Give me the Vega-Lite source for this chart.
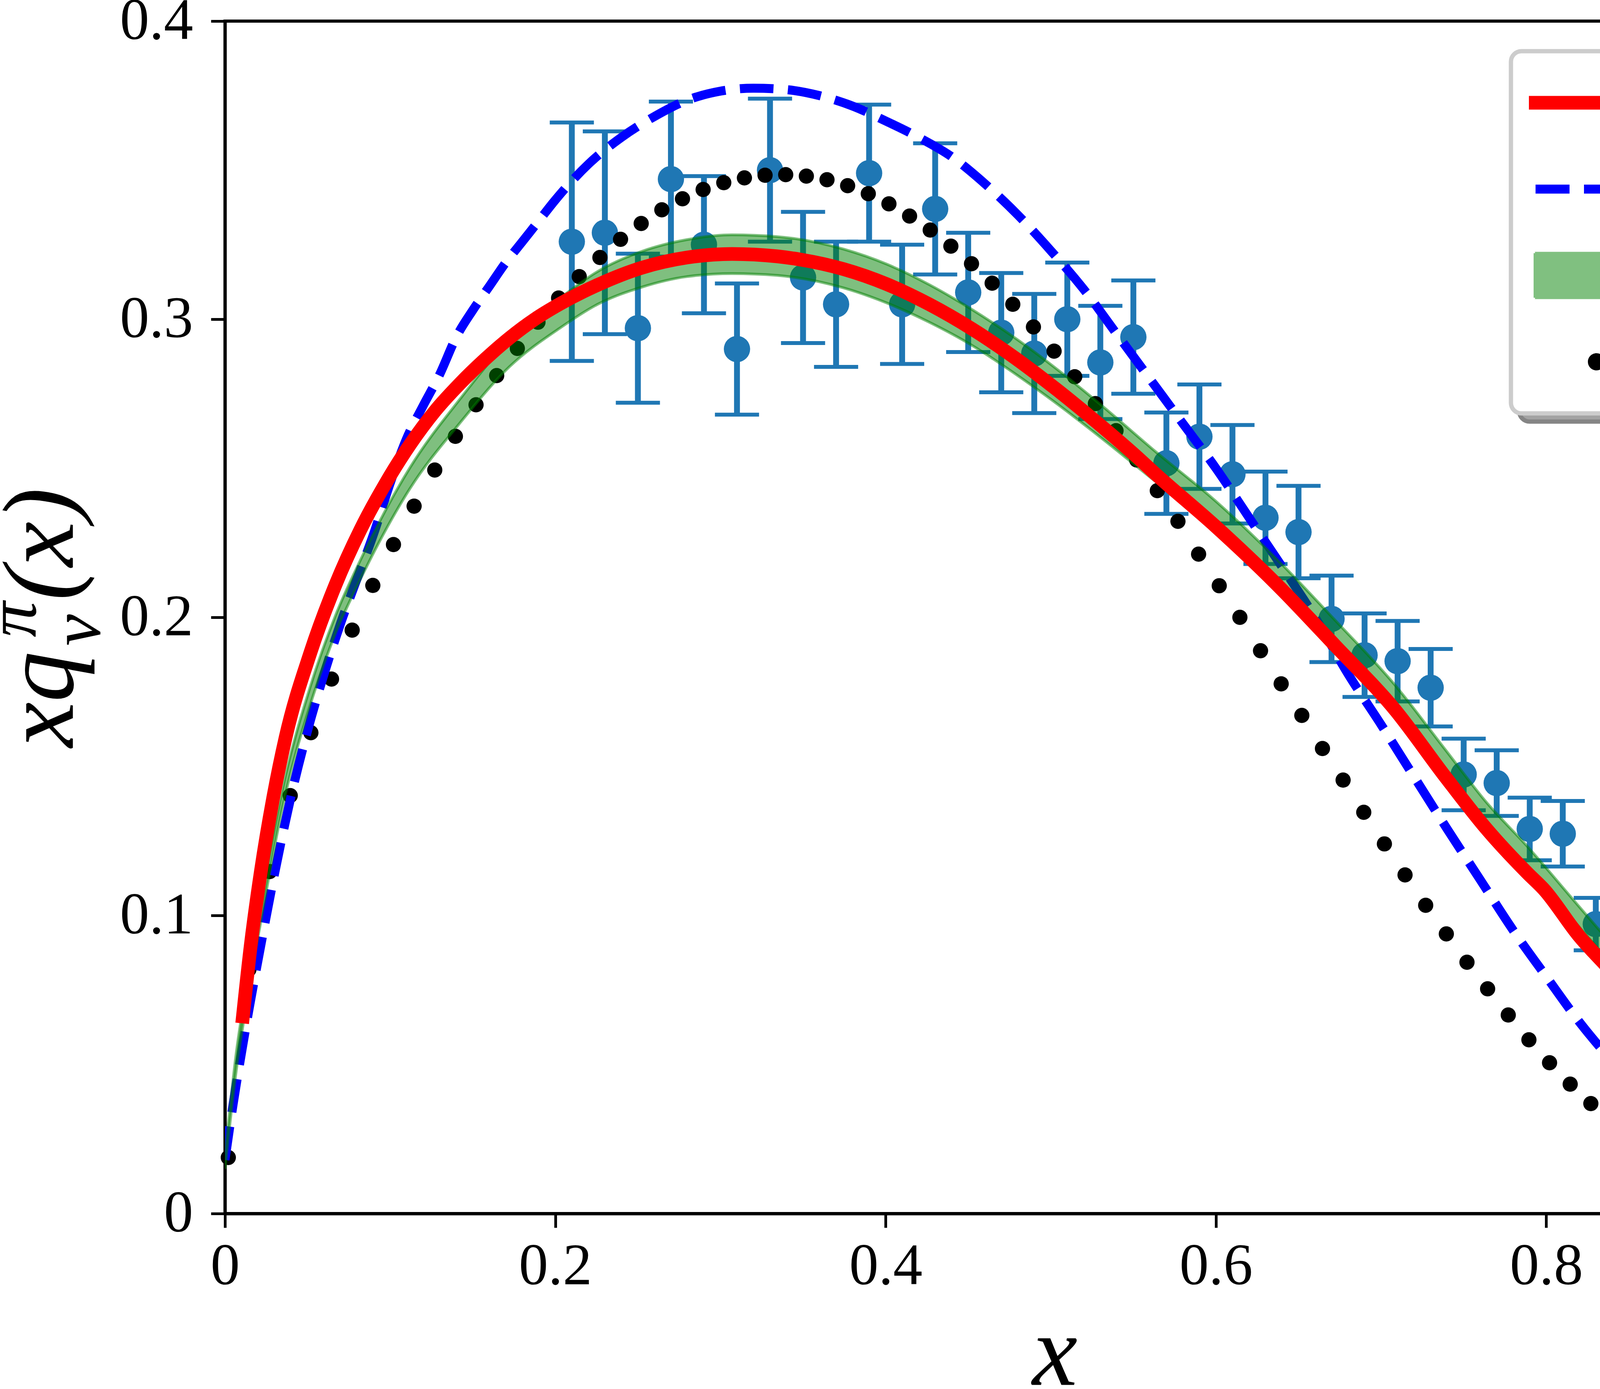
{
  "$schema": "https://vega.github.io/schema/vega-lite/v6.json",
  "width": 4228,
  "height": 3052,
  "autosize": {"type": "none"},
  "padding": {"left": 576, "top": 54, "right": 37, "bottom": 449},
  "background": "white",
  "datasets": {
    "exp": [
      {"x": 0.21, "y": 0.326, "err": 0.04},
      {"x": 0.23, "y": 0.329, "err": 0.034},
      {"x": 0.25, "y": 0.297, "err": 0.025},
      {"x": 0.27, "y": 0.347, "err": 0.026},
      {"x": 0.29, "y": 0.325, "err": 0.023},
      {"x": 0.31, "y": 0.29, "err": 0.022},
      {"x": 0.33, "y": 0.35, "err": 0.024},
      {"x": 0.35, "y": 0.314, "err": 0.022},
      {"x": 0.37, "y": 0.305, "err": 0.021},
      {"x": 0.39, "y": 0.349, "err": 0.023},
      {"x": 0.41, "y": 0.305, "err": 0.02},
      {"x": 0.43, "y": 0.337, "err": 0.022},
      {"x": 0.45, "y": 0.309, "err": 0.02},
      {"x": 0.47, "y": 0.2955, "err": 0.02},
      {"x": 0.49, "y": 0.2885, "err": 0.02},
      {"x": 0.51, "y": 0.3, "err": 0.019},
      {"x": 0.53, "y": 0.2855, "err": 0.019},
      {"x": 0.55, "y": 0.294, "err": 0.019},
      {"x": 0.57, "y": 0.2517, "err": 0.017},
      {"x": 0.59, "y": 0.2606, "err": 0.0175},
      {"x": 0.61, "y": 0.248, "err": 0.0165},
      {"x": 0.63, "y": 0.2334, "err": 0.0155},
      {"x": 0.65, "y": 0.2286, "err": 0.0155},
      {"x": 0.67, "y": 0.1995, "err": 0.0145},
      {"x": 0.69, "y": 0.1873, "err": 0.014},
      {"x": 0.71, "y": 0.1853, "err": 0.0135},
      {"x": 0.73, "y": 0.1764, "err": 0.013},
      {"x": 0.75, "y": 0.1473, "err": 0.012},
      {"x": 0.77, "y": 0.1444, "err": 0.011},
      {"x": 0.79, "y": 0.129, "err": 0.0105},
      {"x": 0.81, "y": 0.1274, "err": 0.011},
      {"x": 0.83, "y": 0.0971, "err": 0.0088},
      {"x": 0.85, "y": 0.0914, "err": 0.0088},
      {"x": 0.87, "y": 0.0918, "err": 0.009},
      {"x": 0.89, "y": 0.0627, "err": 0.007},
      {"x": 0.91, "y": 0.0554, "err": 0.0065},
      {"x": 0.93, "y": 0.0376, "err": 0.0048},
      {"x": 0.95, "y": 0.032, "err": 0.0047},
      {"x": 0.97, "y": 0.017, "err": 0.0032},
      {"x": 0.99, "y": 0.0093, "err": 0.0024}
    ],
    "jam": [
      {"x": 0.0, "lo": 0.015, "hi": 0.019},
      {"x": 0.0066, "lo": 0.047, "hi": 0.053},
      {"x": 0.0126, "lo": 0.069, "hi": 0.075},
      {"x": 0.0217, "lo": 0.098, "hi": 0.104},
      {"x": 0.0367, "lo": 0.141, "hi": 0.147},
      {"x": 0.0518, "lo": 0.171, "hi": 0.177},
      {"x": 0.0669, "lo": 0.1946, "hi": 0.2006},
      {"x": 0.082, "lo": 0.2128, "hi": 0.2192},
      {"x": 0.1121, "lo": 0.2433, "hi": 0.2503},
      {"x": 0.1424, "lo": 0.2653, "hi": 0.2733},
      {"x": 0.1725, "lo": 0.2842, "hi": 0.2932},
      {"x": 0.2027, "lo": 0.297, "hi": 0.307},
      {"x": 0.2256, "lo": 0.305, "hi": 0.316},
      {"x": 0.2526, "lo": 0.3108, "hi": 0.3228},
      {"x": 0.2798, "lo": 0.3143, "hi": 0.3267},
      {"x": 0.307, "lo": 0.3153, "hi": 0.3283},
      {"x": 0.3342, "lo": 0.3147, "hi": 0.3277},
      {"x": 0.3746, "lo": 0.3105, "hi": 0.3235},
      {"x": 0.4005, "lo": 0.3055, "hi": 0.3185},
      {"x": 0.4264, "lo": 0.299, "hi": 0.3116},
      {"x": 0.4524, "lo": 0.2912, "hi": 0.3032},
      {"x": 0.4784, "lo": 0.2817, "hi": 0.2937},
      {"x": 0.5043, "lo": 0.2714, "hi": 0.283},
      {"x": 0.5303, "lo": 0.2603, "hi": 0.2713},
      {"x": 0.5636, "lo": 0.2455, "hi": 0.2555},
      {"x": 0.5998, "lo": 0.23, "hi": 0.239},
      {"x": 0.636, "lo": 0.212, "hi": 0.22},
      {"x": 0.6722, "lo": 0.191, "hi": 0.199},
      {"x": 0.7084, "lo": 0.1697, "hi": 0.1773},
      {"x": 0.7389, "lo": 0.1484, "hi": 0.1556},
      {"x": 0.7637, "lo": 0.131, "hi": 0.138},
      {"x": 0.7888, "lo": 0.116, "hi": 0.123},
      {"x": 0.82, "lo": 0.0961, "hi": 0.1029},
      {"x": 0.8409, "lo": 0.0829, "hi": 0.0895},
      {"x": 0.87, "lo": 0.0651, "hi": 0.0715},
      {"x": 0.8988, "lo": 0.0485, "hi": 0.0545},
      {"x": 0.9279, "lo": 0.0324, "hi": 0.038},
      {"x": 0.9568, "lo": 0.0166, "hi": 0.0214},
      {"x": 0.9722, "lo": 0.0095, "hi": 0.0135},
      {"x": 0.9838, "lo": 0.0047, "hi": 0.0077},
      {"x": 1.0, "lo": 0.0, "hi": 0.0016}
    ],
    "curves": [
      {"series": "DSE", "x": 0.0104, "y": 0.0638},
      {"series": "DSE", "x": 0.0156, "y": 0.09},
      {"series": "DSE", "x": 0.0217, "y": 0.1147},
      {"series": "DSE", "x": 0.0291, "y": 0.1392},
      {"series": "DSE", "x": 0.0367, "y": 0.1597},
      {"series": "DSE", "x": 0.0518, "y": 0.1883},
      {"series": "DSE", "x": 0.0669, "y": 0.2109},
      {"series": "DSE", "x": 0.082, "y": 0.2294},
      {"series": "DSE", "x": 0.097, "y": 0.2447},
      {"series": "DSE", "x": 0.1121, "y": 0.258},
      {"series": "DSE", "x": 0.1273, "y": 0.2693},
      {"series": "DSE", "x": 0.1424, "y": 0.2785},
      {"series": "DSE", "x": 0.1575, "y": 0.2866},
      {"series": "DSE", "x": 0.1725, "y": 0.2938},
      {"series": "DSE", "x": 0.1876, "y": 0.3},
      {"series": "DSE", "x": 0.2027, "y": 0.3051},
      {"series": "DSE", "x": 0.2256, "y": 0.3115},
      {"series": "DSE", "x": 0.2526, "y": 0.3173},
      {"series": "DSE", "x": 0.2798, "y": 0.3207},
      {"series": "DSE", "x": 0.307, "y": 0.3219},
      {"series": "DSE", "x": 0.3342, "y": 0.3211},
      {"series": "DSE", "x": 0.3486, "y": 0.32},
      {"series": "DSE", "x": 0.3746, "y": 0.3168},
      {"series": "DSE", "x": 0.4005, "y": 0.3118},
      {"series": "DSE", "x": 0.4264, "y": 0.305},
      {"series": "DSE", "x": 0.4524, "y": 0.2967},
      {"series": "DSE", "x": 0.4784, "y": 0.287},
      {"series": "DSE", "x": 0.5043, "y": 0.2761},
      {"series": "DSE", "x": 0.5303, "y": 0.2643},
      {"series": "DSE", "x": 0.552, "y": 0.2539},
      {"series": "DSE", "x": 0.5636, "y": 0.248},
      {"series": "DSE", "x": 0.5998, "y": 0.2305},
      {"series": "DSE", "x": 0.636, "y": 0.2115},
      {"series": "DSE", "x": 0.6722, "y": 0.1905},
      {"series": "DSE", "x": 0.7084, "y": 0.169},
      {"series": "DSE", "x": 0.7389, "y": 0.1465},
      {"series": "DSE", "x": 0.7637, "y": 0.1291},
      {"series": "DSE", "x": 0.7888, "y": 0.1141},
      {"series": "DSE", "x": 0.7985, "y": 0.1088},
      {"series": "DSE", "x": 0.8197, "y": 0.0932},
      {"series": "DSE", "x": 0.8409, "y": 0.0804},
      {"series": "DSE", "x": 0.87, "y": 0.0622},
      {"series": "DSE", "x": 0.8988, "y": 0.0456},
      {"series": "DSE", "x": 0.9279, "y": 0.0296},
      {"series": "DSE", "x": 0.9568, "y": 0.0135},
      {"series": "DSE", "x": 0.9722, "y": 0.0071},
      {"series": "DSE", "x": 0.9838, "y": 0.0028},
      {"series": "DSE", "x": 1.0, "y": 0.0012},
      {"series": "WIA", "x": 0.0, "y": 0.018},
      {"series": "WIA", "x": 0.005, "y": 0.037},
      {"series": "WIA", "x": 0.01, "y": 0.054},
      {"series": "WIA", "x": 0.015, "y": 0.07},
      {"series": "WIA", "x": 0.02, "y": 0.085},
      {"series": "WIA", "x": 0.03, "y": 0.114},
      {"series": "WIA", "x": 0.04, "y": 0.14},
      {"series": "WIA", "x": 0.05, "y": 0.162},
      {"series": "WIA", "x": 0.06, "y": 0.181},
      {"series": "WIA", "x": 0.07, "y": 0.198},
      {"series": "WIA", "x": 0.08, "y": 0.213},
      {"series": "WIA", "x": 0.09, "y": 0.228},
      {"series": "WIA", "x": 0.1, "y": 0.245},
      {"series": "WIA", "x": 0.11, "y": 0.26},
      {"series": "WIA", "x": 0.12, "y": 0.271},
      {"series": "WIA", "x": 0.13, "y": 0.2815},
      {"series": "WIA", "x": 0.14, "y": 0.294},
      {"series": "WIA", "x": 0.15, "y": 0.303},
      {"series": "WIA", "x": 0.16, "y": 0.311},
      {"series": "WIA", "x": 0.17, "y": 0.319},
      {"series": "WIA", "x": 0.18, "y": 0.326},
      {"series": "WIA", "x": 0.19, "y": 0.333},
      {"series": "WIA", "x": 0.2, "y": 0.34},
      {"series": "WIA", "x": 0.22, "y": 0.352},
      {"series": "WIA", "x": 0.24, "y": 0.361},
      {"series": "WIA", "x": 0.26, "y": 0.368},
      {"series": "WIA", "x": 0.28, "y": 0.3735},
      {"series": "WIA", "x": 0.3, "y": 0.3765},
      {"series": "WIA", "x": 0.32, "y": 0.3775},
      {"series": "WIA", "x": 0.34, "y": 0.377},
      {"series": "WIA", "x": 0.36, "y": 0.375},
      {"series": "WIA", "x": 0.38, "y": 0.3715},
      {"series": "WIA", "x": 0.4, "y": 0.3665},
      {"series": "WIA", "x": 0.42, "y": 0.361},
      {"series": "WIA", "x": 0.44, "y": 0.3545},
      {"series": "WIA", "x": 0.46, "y": 0.3455},
      {"series": "WIA", "x": 0.48, "y": 0.335},
      {"series": "WIA", "x": 0.5, "y": 0.323},
      {"series": "WIA", "x": 0.52, "y": 0.31},
      {"series": "WIA", "x": 0.54, "y": 0.295},
      {"series": "WIA", "x": 0.56, "y": 0.28},
      {"series": "WIA", "x": 0.58, "y": 0.265},
      {"series": "WIA", "x": 0.6, "y": 0.25},
      {"series": "WIA", "x": 0.62, "y": 0.2335},
      {"series": "WIA", "x": 0.64, "y": 0.217},
      {"series": "WIA", "x": 0.66, "y": 0.2},
      {"series": "WIA", "x": 0.68, "y": 0.181},
      {"series": "WIA", "x": 0.7, "y": 0.164},
      {"series": "WIA", "x": 0.72, "y": 0.1465},
      {"series": "WIA", "x": 0.74, "y": 0.129},
      {"series": "WIA", "x": 0.76, "y": 0.112},
      {"series": "WIA", "x": 0.78, "y": 0.095},
      {"series": "WIA", "x": 0.8, "y": 0.0795},
      {"series": "WIA", "x": 0.82, "y": 0.0643},
      {"series": "WIA", "x": 0.84, "y": 0.051},
      {"series": "WIA", "x": 0.86, "y": 0.0386},
      {"series": "WIA", "x": 0.88, "y": 0.0275},
      {"series": "WIA", "x": 0.9, "y": 0.0178},
      {"series": "WIA", "x": 0.92, "y": 0.0105},
      {"series": "WIA", "x": 0.94, "y": 0.0055},
      {"series": "WIA", "x": 0.96, "y": 0.0025},
      {"series": "WIA", "x": 0.98, "y": 0.0008},
      {"series": "WIA", "x": 1.0, "y": 0.0},
      {"series": "ASV", "x": 0.002, "y": 0.0188},
      {"series": "ASV", "x": 0.0145, "y": 0.0819},
      {"series": "ASV", "x": 0.027, "y": 0.1147},
      {"series": "ASV", "x": 0.0395, "y": 0.1402},
      {"series": "ASV", "x": 0.052, "y": 0.1613},
      {"series": "ASV", "x": 0.0645, "y": 0.1793},
      {"series": "ASV", "x": 0.077, "y": 0.1957},
      {"series": "ASV", "x": 0.0895, "y": 0.2107},
      {"series": "ASV", "x": 0.102, "y": 0.2244},
      {"series": "ASV", "x": 0.1145, "y": 0.2373},
      {"series": "ASV", "x": 0.127, "y": 0.2494},
      {"series": "ASV", "x": 0.1395, "y": 0.2607},
      {"series": "ASV", "x": 0.152, "y": 0.2713},
      {"series": "ASV", "x": 0.1645, "y": 0.2811},
      {"series": "ASV", "x": 0.177, "y": 0.2902},
      {"series": "ASV", "x": 0.1895, "y": 0.299},
      {"series": "ASV", "x": 0.202, "y": 0.3071},
      {"series": "ASV", "x": 0.2145, "y": 0.3143},
      {"series": "ASV", "x": 0.227, "y": 0.3207},
      {"series": "ASV", "x": 0.2395, "y": 0.3268},
      {"series": "ASV", "x": 0.252, "y": 0.3321},
      {"series": "ASV", "x": 0.2645, "y": 0.3367},
      {"series": "ASV", "x": 0.277, "y": 0.3404},
      {"series": "ASV", "x": 0.2895, "y": 0.3435},
      {"series": "ASV", "x": 0.302, "y": 0.3458},
      {"series": "ASV", "x": 0.3145, "y": 0.3474},
      {"series": "ASV", "x": 0.327, "y": 0.3483},
      {"series": "ASV", "x": 0.3395, "y": 0.3485},
      {"series": "ASV", "x": 0.352, "y": 0.348},
      {"series": "ASV", "x": 0.3645, "y": 0.3468},
      {"series": "ASV", "x": 0.377, "y": 0.3448},
      {"series": "ASV", "x": 0.3895, "y": 0.3421},
      {"series": "ASV", "x": 0.402, "y": 0.3387},
      {"series": "ASV", "x": 0.4145, "y": 0.3346},
      {"series": "ASV", "x": 0.427, "y": 0.3299},
      {"series": "ASV", "x": 0.4395, "y": 0.3245},
      {"series": "ASV", "x": 0.452, "y": 0.3186},
      {"series": "ASV", "x": 0.4645, "y": 0.3121},
      {"series": "ASV", "x": 0.477, "y": 0.305},
      {"series": "ASV", "x": 0.4895, "y": 0.2974},
      {"series": "ASV", "x": 0.502, "y": 0.2893},
      {"series": "ASV", "x": 0.5145, "y": 0.2807},
      {"series": "ASV", "x": 0.527, "y": 0.2717},
      {"series": "ASV", "x": 0.5395, "y": 0.2626},
      {"series": "ASV", "x": 0.552, "y": 0.2528},
      {"series": "ASV", "x": 0.5645, "y": 0.2425},
      {"series": "ASV", "x": 0.577, "y": 0.2322},
      {"series": "ASV", "x": 0.5895, "y": 0.2212},
      {"series": "ASV", "x": 0.602, "y": 0.2106},
      {"series": "ASV", "x": 0.6145, "y": 0.2},
      {"series": "ASV", "x": 0.627, "y": 0.1888},
      {"series": "ASV", "x": 0.6395, "y": 0.1777},
      {"series": "ASV", "x": 0.652, "y": 0.1671},
      {"series": "ASV", "x": 0.6645, "y": 0.156},
      {"series": "ASV", "x": 0.677, "y": 0.1454},
      {"series": "ASV", "x": 0.6895, "y": 0.1346},
      {"series": "ASV", "x": 0.702, "y": 0.124},
      {"series": "ASV", "x": 0.7145, "y": 0.1136},
      {"series": "ASV", "x": 0.727, "y": 0.1034},
      {"series": "ASV", "x": 0.7395, "y": 0.0938},
      {"series": "ASV", "x": 0.752, "y": 0.0843},
      {"series": "ASV", "x": 0.7645, "y": 0.0754},
      {"series": "ASV", "x": 0.777, "y": 0.0666},
      {"series": "ASV", "x": 0.7895, "y": 0.0583},
      {"series": "ASV", "x": 0.802, "y": 0.0506},
      {"series": "ASV", "x": 0.8145, "y": 0.0434},
      {"series": "ASV", "x": 0.827, "y": 0.0369},
      {"series": "ASV", "x": 0.8395, "y": 0.0308},
      {"series": "ASV", "x": 0.852, "y": 0.0253},
      {"series": "ASV", "x": 0.8645, "y": 0.0202},
      {"series": "ASV", "x": 0.877, "y": 0.0159},
      {"series": "ASV", "x": 0.8895, "y": 0.0123},
      {"series": "ASV", "x": 0.902, "y": 0.0093},
      {"series": "ASV", "x": 0.9145, "y": 0.0068},
      {"series": "ASV", "x": 0.927, "y": 0.0046},
      {"series": "ASV", "x": 0.9395, "y": 0.003},
      {"series": "ASV", "x": 0.952, "y": 0.0018},
      {"series": "ASV", "x": 0.9645, "y": 0.0011},
      {"series": "ASV", "x": 0.977, "y": 0.0006}
    ]
  },
  "layer": [
    {
      "data": {"name": "exp"},
      "mark": {
        "type": "errorbar",
        "color": "#1f77b4",
        "ticks": {"size": 113, "thickness": 10, "color": "#1f77b4", "opacity": 1},
        "rule": {"strokeWidth": 15, "color": "#1f77b4", "opacity": 1}
      },
      "encoding": {
        "x": {
          "field": "x", "type": "quantitative",
          "scale": {"domain": [0, 1], "nice": false, "zero": false},
          "axis": {
            "orient": "bottom",
            "values": [0, 0.2, 0.4, 0.6, 0.8, 1],
            "format": "~g",
            "labelPadding": 25,
            "title": "x",
            "titleFontSize": 260,
            "titleX": 2124,
            "titleY": 438,
            "titleAlign": "center",
            "titleBaseline": "alphabetic"
          }
        },
        "y": {"field": "y", "type": "quantitative", "scale": {"domain": [0, 0.4], "nice": false, "zero": false}, "axis": null},
        "yError": {"field": "err"}
      }
    },
    {
      "data": {"name": "exp"},
      "mark": {"type": "circle", "color": "#1f77b4", "opacity": 1},
      "encoding": {
        "x": {"field": "x", "type": "quantitative"},
        "y": {"field": "y", "type": "quantitative", "axis": null},
        "size": {
          "field": "err", "type": "quantitative",
          "scale": {"range": [4536, 4536]},
          "legend": {
            "orient": "none",
            "legendX": 3313,
            "legendY": 98,
            "zindex": 1,
            "title": null,
            "values": [0.005, 0.01, 0.02, 0.03],
            "labelExpr": "''",
            "padding": 57,
            "fillColor": "#a3a3a3",
            "strokeColor": "#858585",
            "cornerRadius": 27,
            "labelFont": "Liberation Serif",
            "labelFontSize": 150,
            "labelLimit": 2000,
            "labelOffset": 593,
            "symbolOpacity": 0,
            "symbolStrokeWidth": 0,
            "rowPadding": 71,
            "encoding": {
              "legend": {"strokeWidth": {"value": 11}}
            }
          }
        }
      }
    },
    {
      "data": {"name": "curves"},
      "transform": [{"filter": "datum.series === 'ASV'"}],
      "mark": {"type": "circle", "size": 1520, "opacity": 1},
      "encoding": {
        "x": {"field": "x", "type": "quantitative"},
        "y": {
          "field": "y", "type": "quantitative",
          "axis": {
            "orient": "left", "domain": false, "ticks": false, "labels": false, "grid": false,
            "title": "v", "titleFontSize": 182, "titleX": -322, "titleY": 1558,
            "titleAngle": -90, "titleAlign": "center", "titleBaseline": "alphabetic"
          }
        },
        "color": {"field": "series", "type": "nominal"}
      }
    },
    {
      "data": {"name": "curves"},
      "transform": [{"filter": "datum.series === 'WIA'"}],
      "mark": {"type": "line", "strokeWidth": 23, "strokeDash": [86, 37], "interpolate": "monotone", "clip": true},
      "encoding": {
        "x": {"field": "x", "type": "quantitative"},
        "y": {
          "field": "y", "type": "quantitative",
          "axis": {
            "orient": "left", "domain": false, "ticks": false, "labels": false, "grid": false,
            "title": "π", "titleFontSize": 182, "titleX": -486, "titleY": 1531,
            "titleAngle": -90, "titleAlign": "center", "titleBaseline": "alphabetic"
          }
        },
        "color": {"field": "series", "type": "nominal"}
      }
    },
    {
      "data": {"name": "jam"},
      "mark": {"type": "area", "fill": "green", "opacity": 1, "fillOpacity": 0.5, "stroke": "green", "strokeOpacity": 0.5, "strokeWidth": 7, "interpolate": "monotone", "clip": true},
      "encoding": {
        "x": {"field": "x", "type": "quantitative"},
        "y": {"field": "lo", "type": "quantitative", "axis": null},
        "y2": {"field": "hi"}
      }
    },
    {
      "data": {"name": "curves"},
      "transform": [{"filter": "datum.series === 'DSE'"}],
      "mark": {"type": "line", "strokeWidth": 35, "strokeJoin": "round", "interpolate": "monotone", "clip": true},
      "encoding": {
        "x": {"field": "x", "type": "quantitative"},
        "y": {
          "field": "y", "type": "quantitative",
          "axis": {
            "orient": "left",
            "values": [0, 0.1, 0.2, 0.3, 0.4],
            "format": "~g",
            "labelPadding": 46,
            "title": "xq\u00a0\u00a0(x)",
            "titleFontSize": 260,
            "titleX": -390,
            "titleY": 1526,
            "titleAngle": -90,
            "titleAlign": "center",
            "titleBaseline": "alphabetic"
          }
        },
        "color": {
          "field": "series", "type": "nominal",
          "scale": {"domain": ["DSE", "WIA", "JAM", "ASV"], "range": ["red", "blue", "#80c080", "black"]},
          "legend": {
            "orient": "none",
            "legendX": 3292,
            "legendY": 77,
            "zindex": 2,
            "title": null,
            "padding": 57,
            "fillColor": "white",
            "strokeColor": "#cccccc",
            "cornerRadius": 27,
            "labelFont": "Liberation Serif",
            "labelFontSize": 150,
            "labelColor": "black",
            "labelLimit": 2000,
            "labelOffset": 293,
            "symbolSize": 22500,
            "symbolStrokeWidth": 7,
            "symbolStrokeColor": "#40a040",
            "symbolOffset": 0,
            "rowPadding": 71,
            "encoding": {
              "legend": {"strokeWidth": {"value": 11}},
              "symbols": {
                "shape": {"value": {"expr": "datum.value === 'DSE' ? 'M-1.1467,-0.2333H3.4533V0.2333H-1.1467Z' : datum.value === 'WIA' ? 'M-0.92,-0.1533H0.24V0.1533H-0.92ZM0.7333,-0.1533H1.88V0.1533H0.7333ZM2.3733,-0.1533H3.2267V0.1533H2.3733Z' : datum.value === 'JAM' ? 'M-0.94,-0.76H3.26V0.76H-0.94Z' : 'M0.8667,0A0.2933,0.2933,0,1,0,1.4533,0A0.2933,0.2933,0,1,0,0.8667,0Z'"}},
                "strokeWidth": {"value": {"expr": "datum.value === 'JAM' ? 7 : 0"}},
                "strokeDash": {"value": [1, 0]},
                "opacity": {"value": 1}
              }
            }
          }
        }
      }
    }
  ],
  "resolve": {"axis": {"y": "independent"}},
  "config": {
    "view": {"stroke": "black", "strokeWidth": 8},
    "axis": {
      "domainColor": "black",
      "domainWidth": 8,
      "tickColor": "black",
      "tickWidth": 7,
      "tickSize": 36,
      "grid": false,
      "labelFont": "Liberation Serif",
      "labelFontSize": 150,
      "labelColor": "black",
      "labelLimit": 2000,
      "labelFlush": false,
      "labelOverlap": false,
      "labelBound": false,
      "titleFont": "Liberation Serif",
      "titleFontStyle": "italic",
      "titleFontWeight": "normal",
      "titleColor": "black",
      "titleLimit": 5000
    }
  }
}
